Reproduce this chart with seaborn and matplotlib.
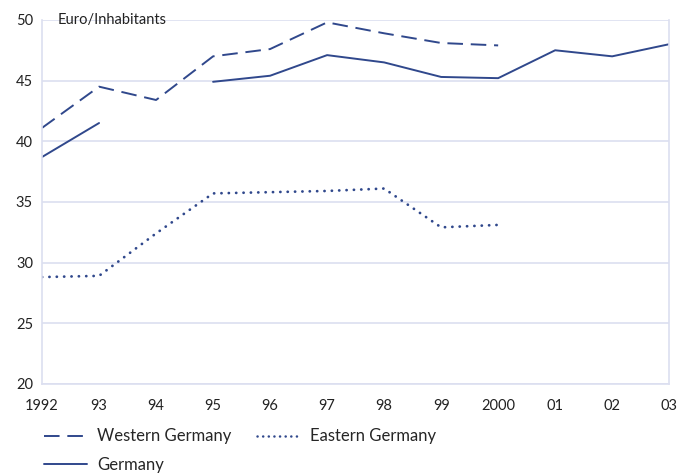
import pandas as pd
import numpy as np
import matplotlib.pyplot as plt
from matplotlib.lines import Line2D
import seaborn as sns

years = list(range(1992, 2004))
tick_labels = ['1992', '93', '94', '95', '96', '97', '98', '99', '2000', '01', '02', '03']

western = [41.1, 44.5, 43.4, 47.0, 47.6, 49.8, 48.9, 48.1, 47.9, np.nan, np.nan, np.nan]
eastern = [28.8, 28.9, 32.4, 35.7, 35.8, 35.9, 36.1, 32.9, 33.1, np.nan, np.nan, np.nan]
germany = [38.7, 41.5, np.nan, 44.9, 45.4, 47.1, 46.5, 45.3, 45.2, 47.5, 47.0, 48.0]

series_names = ['Western Germany', 'Eastern Germany', 'Germany']

# long format, gaps split into segments so the line breaks at NaN
rows = []
for name, vals in zip(series_names, [western, eastern, germany]):
    seg = 0
    for y, v in zip(years, vals):
        if np.isnan(v):
            seg += 1
            continue
        rows.append({'year': y, 'value': v, 'series': name, 'seg': f'{name}_{seg}'})
df = pd.DataFrame(rows)

navy = '#30488c'
grid_c = '#dcdff0'

sns.set_style('white')
plt.rcParams['font.family'] = ['Lato', 'DejaVu Sans']

fig = plt.figure(figsize=(6.78, 4.75), dpi=100)
ax = fig.add_axes([0.062, 0.192, 0.925, 0.766])

dot_dash = (0.05, 2.6)
long_dash = (8, 4)

for name in series_names:
    sub = df[df['series'] == name]
    for seg, part in sub.groupby('seg'):
        sns.lineplot(data=part, x='year', y='value', ax=ax, color=navy,
                     linewidth=1.4, estimator=None, legend=False)
        ln = ax.lines[-1]
        if name == 'Western Germany':
            ln.set_dashes(long_dash)
        elif name == 'Eastern Germany':
            ln.set_linewidth(2.0)
            ln.set_dashes(dot_dash)
            ln.set_dash_capstyle('round')

ax.set_xlim(1992, 2003)
ax.set_ylim(20, 50)
ax.set_xticks(years)
ax.set_xticklabels(tick_labels)
ax.set_yticks(range(20, 51, 5))
ax.yaxis.grid(True, color=grid_c, linewidth=1.2)
ax.set_axisbelow(True)
ax.set_xlabel('')
ax.set_ylabel('')

for side in ['left', 'bottom', 'right']:
    ax.spines[side].set_color(grid_c)
    ax.spines[side].set_linewidth(1.2)
ax.spines['top'].set_visible(False)
ax.tick_params(axis='both', colors=navy, length=3, width=1, labelcolor='#222222', labelsize=10.5)
ax.tick_params(axis='x', pad=8)

ax.text(0.025, 1.0, 'Euro/Inhabitants', transform=ax.transAxes, fontsize=10.5,
        color='#222222', va='center', ha='left')

h_west = Line2D([], [], color=navy, lw=1.4, dashes=long_dash)
h_east = Line2D([], [], color=navy, lw=1.8, dashes=(0.05, 2.2), dash_capstyle='round')
h_ger = Line2D([], [], color=navy, lw=1.4)
# column-wise fill: col 1 = Western, Germany; col 2 = Eastern
fig.legend([h_west, h_ger, h_east], ['Western Germany', 'Germany', 'Eastern Germany'],
           loc='upper left', bbox_to_anchor=(0.055, 0.112),
           ncol=2, frameon=False, fontsize=12, handlelength=2.6,
           columnspacing=1.5, handletextpad=0.6, labelspacing=0.75, borderaxespad=0)

fig.savefig('out.png', dpi=100)
